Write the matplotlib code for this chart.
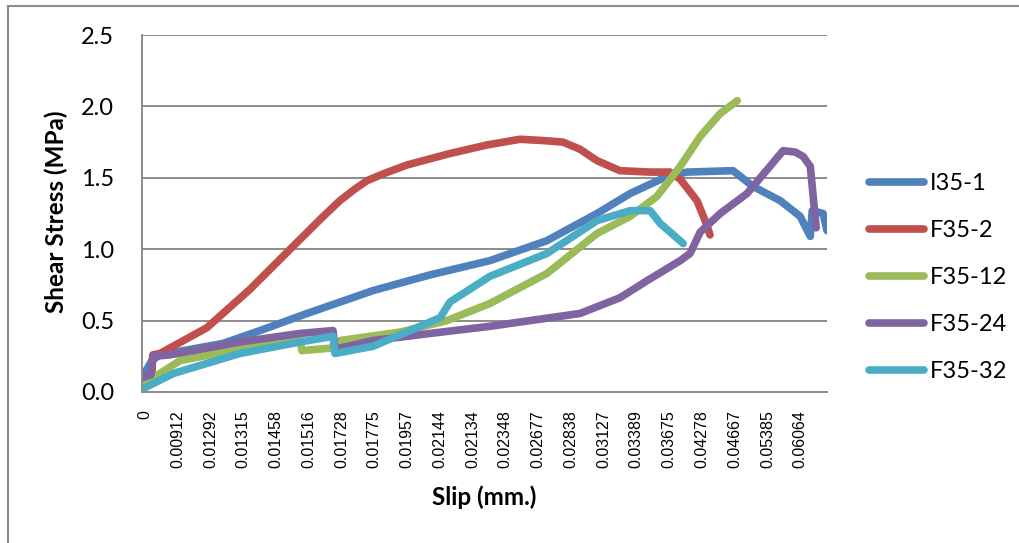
import matplotlib
matplotlib.use("Agg")
import matplotlib.pyplot as plt
from matplotlib.lines import Line2D

# category labels of the slip axis (one label every N samples, as in Excel)
slip_labels = ["0", "0.00912", "0.01292", "0.01315", "0.01458", "0.01516", "0.01728",
               "0.01775", "0.01957", "0.02144", "0.02134", "0.02348", "0.02677",
               "0.02838", "0.03127", "0.03389", "0.03675", "0.04278", "0.04667",
               "0.05385", "0.06064"]

# x = position along the category axis (in label steps), y = shear stress (MPa)
i35_1_x = [-0.09, 0.21, 0.46, 2.38, 3.51, 4.95, 6.96, 8.70, 10.53, 12.27, 13.80,
           14.81, 15.94, 16.55, 17.95, 18.56, 19.39, 20.00, 20.31, 20.37, 20.70, 20.82]
i35_1_y = [0.10, 0.22, 0.26, 0.34, 0.43, 0.55, 0.71, 0.82, 0.92, 1.06, 1.25,
           1.39, 1.51, 1.54, 1.55, 1.44, 1.34, 1.23, 1.09, 1.27, 1.25, 1.13]

f35_2_x = [0.21, 0.24, 0.46, 1.89, 3.21, 4.52, 5.40, 5.95, 6.40, 6.78, 7.30, 8.00, 9.31,
           10.44, 11.45, 12.21, 12.76, 13.28, 13.80, 14.50, 15.42, 16.03, 16.34, 16.85,
           17.10, 17.25]
f35_2_y = [0.12, 0.26, 0.27, 0.45, 0.72, 1.02, 1.22, 1.34, 1.42, 1.48, 1.53, 1.59, 1.67,
           1.73, 1.77, 1.76, 1.75, 1.70, 1.62, 1.55, 1.54, 1.54, 1.49, 1.34,
           1.20, 1.10]

f35_12_x = [-0.09, 0.46, 1.07, 2.90, 4.73, 4.79, 5.80, 5.95, 7.79, 9.22, 10.53, 12.27,
            13.80, 14.81, 15.63, 16.34, 16.95, 17.56, 18.08]
f35_12_y = [0.05, 0.13, 0.22, 0.30, 0.37, 0.29, 0.31, 0.36, 0.42, 0.50, 0.62, 0.83,
            1.11, 1.23, 1.37, 1.58, 1.79, 1.95, 2.04]

f35_24_x = [-0.09, 0.18, 0.24, 0.76, 2.90, 4.73, 5.74, 5.80, 6.96, 8.70, 10.53, 13.28,
            14.50, 15.33, 16.34, 16.64, 16.95, 17.56, 18.38, 19.48, 19.85, 20.09, 20.31, 20.49]
f35_24_y = [0.10, 0.12, 0.25, 0.26, 0.35, 0.41, 0.43, 0.30, 0.36, 0.41, 0.46, 0.55,
            0.66, 0.78, 0.92, 0.97, 1.12, 1.25, 1.39, 1.69, 1.68, 1.65, 1.58, 1.15]

f35_32_x = [-0.09, 0.87, 2.90, 4.73, 5.74, 5.80, 6.96, 9.01, 9.31, 10.53, 12.27,
            13.80, 14.81, 15.42, 15.73, 16.43]
f35_32_y = [0.02, 0.13, 0.27, 0.35, 0.39, 0.27, 0.32, 0.52, 0.63, 0.81, 0.97,
            1.20, 1.27, 1.27, 1.18, 1.04]

series = [
    ("I35-1", i35_1_x, i35_1_y, "#4F81BD"),
    ("F35-2", f35_2_x, f35_2_y, "#C0504D"),
    ("F35-12", f35_12_x, f35_12_y, "#9BBB59"),
    ("F35-24", f35_24_x, f35_24_y, "#8064A2"),
    ("F35-32", f35_32_x, f35_32_y, "#4BACC6"),
]

W, H = 1019, 543
fig = plt.figure(figsize=(W / 100, H / 100), dpi=100)
ax = fig.add_axes([142 / W, 1 - 392 / H, (827 - 142) / W, (392 - 35) / H])

for name, xs, ys, col in series:
    ax.plot(xs, ys, color=col, lw=5.5, label=name,
            solid_capstyle="round", solid_joinstyle="round")

ax.set_xlim(-0.09, 20.82)
ax.set_ylim(0, 2.5)
ax.set_yticks([0, 0.5, 1.0, 1.5, 2.0, 2.5])
ax.set_yticklabels(["0.0", "0.5", "1.0", "1.5", "2.0", "2.5"], family="Lato", fontsize=17)
ax.set_xticks(range(len(slip_labels)))
ax.set_xticklabels(slip_labels, rotation=90, family="Liberation Sans", fontsize=11.5,
                   va="top", ha="center")
ax.tick_params(axis="both", length=0)
ax.tick_params(axis="x", pad=13)
ax.tick_params(axis="y", pad=20)

ax.grid(axis="y", color="#8c8c8c", lw=1.4)
ax.set_axisbelow(True)
for s in ["top", "right"]:
    ax.spines[s].set_visible(False)
ax.spines["left"].set_color("#8c8c8c")
ax.spines["bottom"].set_color("#8c8c8c")
ax.spines["left"].set_linewidth(1.4)
ax.spines["bottom"].set_linewidth(1.4)

fig.text(484 / W, 1 - 497 / H, "Slip (mm.)", ha="center", va="center",
         family="Lato", weight="bold", fontsize=17.5)
fig.text(56 / W, 1 - 212 / H, "Shear Stress (MPa)", ha="center", va="center",
         rotation=90, family="Lato", weight="bold", fontsize=17.5)

leg = fig.legend(loc="upper left", bbox_to_anchor=(848 / W, 1 - 152 / H),
                 frameon=False, prop={"family": "Lato", "size": 17},
                 handlelength=2.3, handletextpad=0.25, labelspacing=1.1)
for h in leg.get_lines():
    h.set_linewidth(5.5)

# chart frame (top and left edges visible)
fig.add_artist(Line2D([8 / W, 1], [1 - 6 / H, 1 - 6 / H], color="#8c8c8c", lw=1.5))
fig.add_artist(Line2D([8 / W, 8 / W], [0, 1 - 6 / H], color="#8c8c8c", lw=1.5))

fig.savefig("out.png", dpi=100)
